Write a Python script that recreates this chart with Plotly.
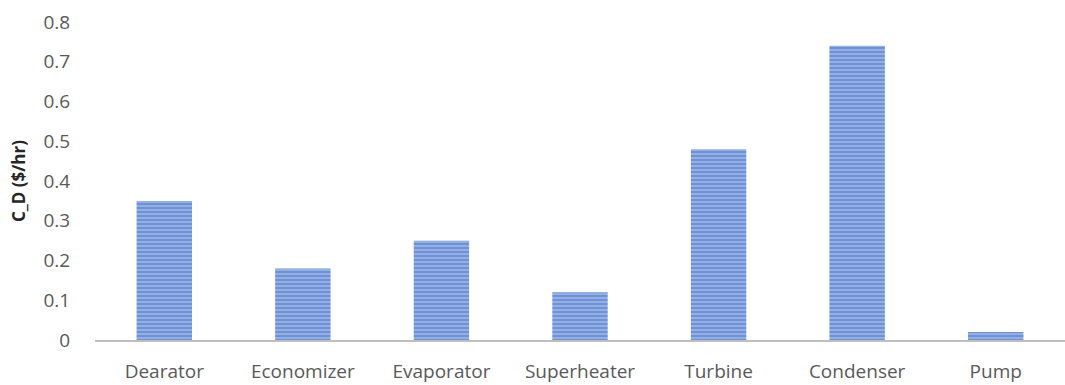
import plotly.graph_objects as go

components = ["Dearator", "Economizer", "Evaporator", "Superheater", "Turbine", "Condenser", "Pump"]
cost_rate = [0.35, 0.18, 0.25, 0.12, 0.48, 0.74, 0.02]
y_ticks = [0, 0.1, 0.2, 0.3, 0.4, 0.5, 0.6, 0.7, 0.8]
y_tick_text = ["0", "0.1", "0.2", "0.3", "0.4", "0.5", "0.6", "0.7", "0.8"]

font_family = "'Open Sans', Lato, sans-serif"

fig = go.Figure(
    go.Bar(
        x=components,
        y=cost_rate,
        marker=dict(
            color="#9bb5e5",
            line=dict(width=0),
            pattern=dict(shape="-", fgcolor="#3f6dc2", bgcolor="#9db7e6", size=4, solidity=0.6),
        ),
    )
)

fig.update_layout(
    width=1065,
    height=385,
    margin=dict(l=95, r=0, t=22, b=45),
    paper_bgcolor="white",
    plot_bgcolor="white",
    bargap=0.6,
    showlegend=False,
    font=dict(family=font_family, size=19, color="#595959"),
)

fig.update_xaxes(
    showline=True,
    linecolor="#bfbfbf",
    linewidth=2,
    showgrid=False,
    ticks="",
    ticklabelstandoff=13,
    tickfont=dict(size=19, color="#595959"),
)

# invisible outside ticks keep the value labels clear of the plot edge
fig.update_yaxes(
    range=[0, 0.8],
    tickvals=y_ticks,
    ticktext=y_tick_text,
    showgrid=False,
    zeroline=False,
    showline=False,
    ticks="outside",
    ticklen=20,
    tickcolor="rgba(0,0,0,0)",
    tickfont=dict(size=19, color="#595959"),
    title=dict(
        text="<b>C_D ($/hr)</b>",
        font=dict(size=17, color="#262626", family=font_family),
        standoff=13,
    ),
)

fig.write_html("out.html")
